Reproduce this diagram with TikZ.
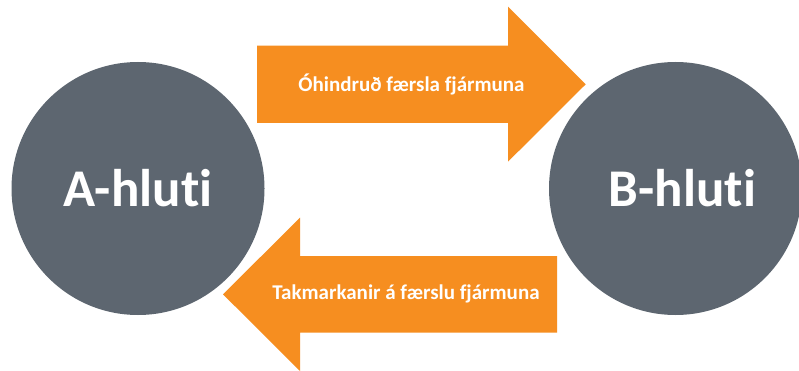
\documentclass[tikz,border=0pt]{standalone}
\usepackage{fontspec}
\setmainfont[Ligatures={NoCommon,NoRequired,NoContextual}]{Carlito}
\definecolor{circgray}{RGB}{93,102,112}
\definecolor{arrorange}{RGB}{246,142,32}
\begin{document}
\begin{tikzpicture}[x=1pt,y=-1pt,
  bigcirc/.style={circle,fill=circgray,minimum size=253pt,inner sep=0pt},
  biglabel/.style={text=white,inner sep=0pt,font=\fontsize{53}{60}\selectfont\bfseries},
  arrfill/.style={fill=arrorange,draw=none},
  arrlabel/.style={text=white,font=\fontsize{21}{24}\selectfont\bfseries,inner sep=0pt}]
\useasboundingbox (0,0) rectangle (799,371);
\fill[white] (0,0) rectangle (799,371);
\node[bigcirc] (A) at (138,188.5) {};
\node[biglabel] (Alab) at (A.center) {A-hluti};
\node[bigcirc] (B) at (675.5,188.5) {};
\node[biglabel] (Blab) at ([xshift=7pt]B.center) {B-hluti};
% top arrow
\fill[arrfill] (257,45.7) -- (508,45.7) -- (508,6.7) -- (585.7,84.3) -- (508,161.7) -- (508,123) -- (257,123) -- cycle;
\node[arrlabel] (t1) at (411.5,84.3) {Óhindruð færsla fjármuna};
% bottom arrow
\fill[arrfill] (557,256) -- (300,256) -- (300,217.7) -- (223,294.3) -- (300,371) -- (300,332.7) -- (557,332.7) -- cycle;
\node[arrlabel] (t2) at (406,294.3) {Takmarkanir á færslu fjármuna};
\end{tikzpicture}
\end{document}
